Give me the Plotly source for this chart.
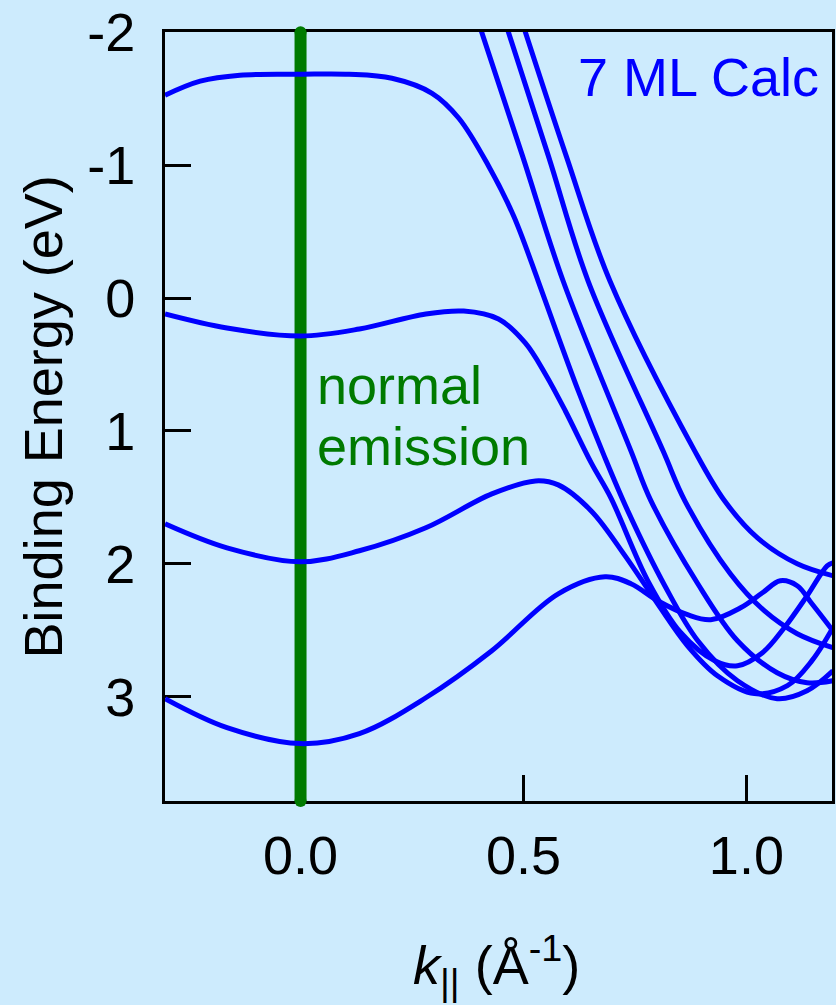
import plotly.graph_objects as go

# ---- data (k in 1/Angstrom, binding energy in eV) ----
band_a_k = [-0.304, -0.225, -0.136, 0.0, 0.109, 0.205, 0.295, 0.355, 0.422, 0.478, 0.533, 0.571, 0.623, 0.681, 0.734, 0.817, 0.891, 0.980, 1.069, 1.136, 1.194]
band_a_e = [-1.526, -1.632, -1.677, -1.684, -1.684, -1.654, -1.541, -1.353, -0.992, -0.617, -0.128, 0.226, 0.699, 1.188, 1.602, 2.165, 2.579, 2.880, 3.015, 2.955, 2.805]

band_b_k = [-0.304, -0.165, 0.0, 0.132, 0.281, 0.366, 0.444, 0.504, 0.549, 0.594, 0.652, 0.696, 0.779, 0.853, 0.929, 0.980, 1.036, 1.085, 1.136, 1.181, 1.194]
band_b_e = [0.120, 0.226, 0.286, 0.233, 0.120, 0.098, 0.158, 0.338, 0.571, 0.850, 1.241, 1.504, 2.128, 2.519, 2.729, 2.767, 2.669, 2.481, 2.241, 2.015, 1.992]

band_c_k = [-0.304, -0.165, 0.0, 0.132, 0.281, 0.429, 0.527, 0.578, 0.652, 0.728, 0.801, 0.868, 0.935, 1.018, 1.092, 1.147, 1.194]
band_c_e = [1.699, 1.880, 1.985, 1.902, 1.729, 1.474, 1.376, 1.406, 1.602, 1.940, 2.301, 2.617, 2.842, 2.977, 2.917, 2.729, 2.481]

band_d_k = [-0.304, -0.165, 0.0, 0.132, 0.281, 0.429, 0.578, 0.683, 0.741, 0.801, 0.868, 0.920, 0.987, 1.036, 1.076, 1.114, 1.147, 1.194]
band_d_e = [3.015, 3.233, 3.353, 3.278, 3.008, 2.654, 2.226, 2.098, 2.150, 2.278, 2.383, 2.421, 2.331, 2.218, 2.128, 2.165, 2.301, 2.504]

band_s1_k = [0.402, 0.498, 0.589, 0.741, 0.786, 0.891, 0.980, 1.069, 1.136, 1.194]
band_s1_e = [-2.045, -1.068, -0.128, 1.150, 1.526, 2.150, 2.579, 2.820, 2.895, 2.880]

band_s2_k = [0.462, 0.556, 0.645, 0.813, 0.862, 0.964, 1.040, 1.114, 1.194]
band_s2_e = [-2.045, -1.068, -0.128, 1.150, 1.526, 2.075, 2.353, 2.526, 2.632]

band_s3_k = [0.500, 0.596, 0.694, 0.884, 0.951, 1.025, 1.114, 1.194]
band_s3_e = [-2.045, -1.068, -0.128, 1.150, 1.526, 1.805, 2.000, 2.090]

bands = [
    (band_a_k, band_a_e), (band_b_k, band_b_e), (band_c_k, band_c_e), (band_d_k, band_d_e),
    (band_s1_k, band_s1_e), (band_s2_k, band_s2_e), (band_s3_k, band_s3_e),
]

normal_k = [0.0, 0.0]
normal_e = [-2.0, 3.785]

x_range = [-0.304, 1.192]
y_range = [3.785, -2.002]
x_ticks = [0.0, 0.5, 1.0]
x_ticktext = ["0.0", "0.5", "1.0"]
y_ticks = [-2, -1, 0, 1, 2, 3]
y_ticktext = ["-2", "-1", "0", "1", "2", "3"]

BG = "#cdebfd"
FONT = "Liberation Sans, Arial, sans-serif"
FS = 54
GREEN = "#007a00"

fig = go.Figure()

fig.add_trace(go.Scatter(x=normal_k, y=normal_e, mode="lines+markers", cliponaxis=False,
                         line=dict(color=GREEN, width=12),
                         marker=dict(color=GREEN, size=12, line=dict(width=0)),
                         hoverinfo="skip", showlegend=False))

for k, e in bands:
    fig.add_trace(go.Scatter(x=k, y=e, mode="lines",
                             line=dict(color="#0000ff", width=5, shape="spline", smoothing=1.0),
                             showlegend=False))

fig.add_annotation(text="7 ML Calc", xref="paper", yref="paper", x=0.984, y=0.941,
                   xanchor="right", yanchor="middle", showarrow=False,
                   font=dict(family=FONT, size=FS, color="#0000ff"))
fig.add_annotation(text="normal", xref="paper", yref="paper", x=0.225, y=0.541,
                   xanchor="left", yanchor="middle", showarrow=False,
                   font=dict(family=FONT, size=FS, color=GREEN))
fig.add_annotation(text="emission", xref="paper", yref="paper", x=0.225, y=0.462,
                   xanchor="left", yanchor="middle", showarrow=False,
                   font=dict(family=FONT, size=FS, color=GREEN))
fig.add_annotation(text="Binding Energy (eV)", xref="paper", yref="paper", x=-0.183, y=0.5,
                   xanchor="center", yanchor="middle", textangle=-90, showarrow=False,
                   font=dict(family=FONT, size=FS, color="black"))
fig.add_annotation(text="<i>k</i><sub>||</sub> (Å<sup>-1</sup>)", xref="paper", yref="paper",
                   x=0.497, y=-0.213, xanchor="center", yanchor="middle", showarrow=False,
                   font=dict(family=FONT, size=FS, color="black"))

axis_common = dict(showline=True, linecolor="black", linewidth=3, mirror=True,
                   ticks="inside", ticklen=26, tickwidth=3, tickcolor="black",
                   showgrid=False, zeroline=False, layer="below traces",
                   tickfont=dict(family=FONT, size=FS, color="black"))

fig.update_xaxes(range=x_range, tickvals=x_ticks, ticktext=x_ticktext,
                 ticklabelstandoff=5, **axis_common)
fig.update_yaxes(range=y_range, tickvals=y_ticks, ticktext=y_ticktext,
                 ticklabelstandoff=16, **axis_common)

fig.update_layout(width=836, height=1005, margin=dict(l=165, r=1, t=32, b=204),
                  paper_bgcolor=BG, plot_bgcolor=BG, showlegend=False,
                  font=dict(family=FONT))

fig.write_html("out.html")
